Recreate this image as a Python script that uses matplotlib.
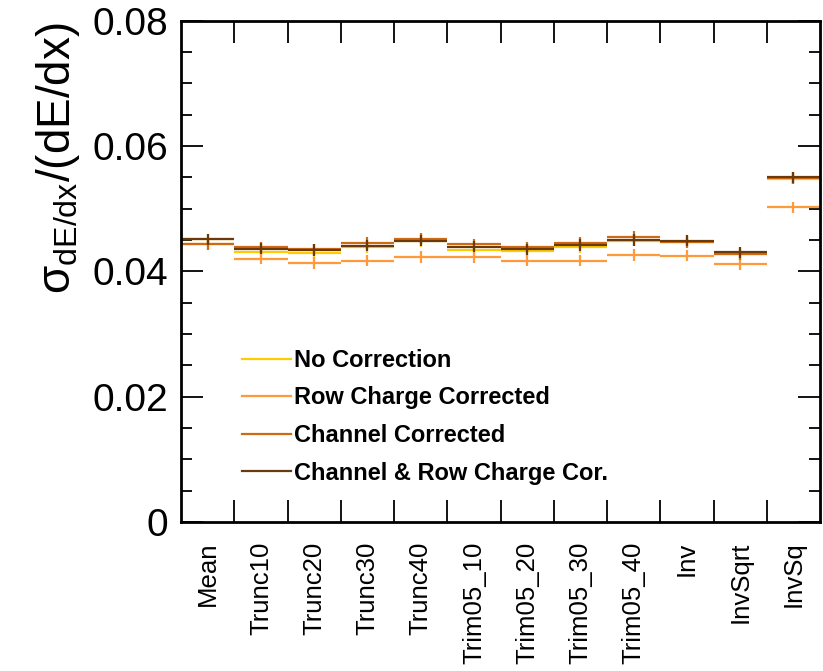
import matplotlib.pyplot as plt
from matplotlib.ticker import MultipleLocator, FixedLocator

plt.rcParams['font.family'] = ['Liberation Sans', 'DejaVu Sans']
plt.rcParams['mathtext.fontset'] = 'custom'

methods = ['Mean', 'Trunc10', 'Trunc20', 'Trunc30', 'Trunc40', 'Trim05_10',
           'Trim05_20', 'Trim05_30', 'Trim05_40', 'Inv', 'InvSqrt', 'InvSq']

no_corr = [0.0451, 0.0430, 0.0429, 0.0438, 0.0448, 0.0434,
           0.0433, 0.0438, 0.0449, 0.0447, 0.0428, 0.0548]
row_corr = [0.0443, 0.0420, 0.0413, 0.0417, 0.0423, 0.0422,
            0.0417, 0.0417, 0.0426, 0.0425, 0.0411, 0.0502]
chan_corr = [0.0443, 0.0438, 0.0435, 0.0445, 0.0452, 0.0443,
             0.0438, 0.0445, 0.0455, 0.0446, 0.0427, 0.0549]
chan_row_corr = [0.0451, 0.0436, 0.0434, 0.0441, 0.0449, 0.0439,
                 0.0435, 0.0442, 0.0450, 0.0449, 0.0430, 0.0550]
err = 0.0009

series = [
    ('No Correction', no_corr, '#ffcc00'),
    ('Row Charge Corrected', row_corr, '#ff9a3a'),
    ('Channel Corrected', chan_corr, '#cf6a12'),
    ('Channel & Row Charge Cor.', chan_row_corr, '#6a3a0c'),
]

fig = plt.figure(figsize=(8.23, 6.71), dpi=100)
ax = fig.add_axes([0.22, 0.222, 0.7764, 0.7474])

x = list(range(len(methods)))
handles = []
for name, vals, col in series:
    ax.errorbar(x, vals, xerr=0.5, yerr=err, fmt='none', ecolor=col,
                elinewidth=1.6, capsize=0)
    h, = ax.plot([], [], color=col, lw=1.6, label=name)
    handles.append(h)

ax.set_xlim(-0.5, len(methods) - 0.5)
ax.set_ylim(0, 0.08)

ax.yaxis.set_major_locator(MultipleLocator(0.02))
ax.yaxis.set_minor_locator(MultipleLocator(0.005))
ax.yaxis.set_major_formatter(plt.FuncFormatter(lambda v, p: '0' if v == 0 else f'{v:.2f}'))
ax.tick_params(axis='y', which='major', direction='in', length=16, width=1.3,
               labelsize=28, pad=9, right=True)
ax.tick_params(axis='y', which='minor', direction='in', length=8, width=1.3, right=True)

# bin edges carry the ticks, labels sit at bin centres
ax.xaxis.set_major_locator(FixedLocator([i + 0.5 for i in range(len(methods) - 1)]))
ax.xaxis.set_major_formatter(plt.NullFormatter())
ax.xaxis.set_minor_locator(FixedLocator(x))
ax.xaxis.set_minor_formatter(plt.FixedFormatter(methods))
ax.tick_params(axis='x', which='major', direction='in', length=16, width=1.3, top=True)
ax.tick_params(axis='x', which='minor', length=0, labelsize=18.5, pad=14,
               labelrotation=90)
for lab in ax.get_xticklabels(minor=True):
    lab.set_va('top')

for s in ax.spines.values():
    s.set_linewidth(2)

ax.set_ylabel('$\\mathregular{σ_{dE/dx}/(dE/dx)}$', fontsize=33)
ax.yaxis.set_label_coords(-0.155, 0.725)

leg = ax.legend(handles=handles, loc='upper left', frameon=False,
                bbox_to_anchor=(230 / 823, 1 - 337 / 671),
                bbox_transform=fig.transFigure,
                prop={'weight': 'bold', 'size': 17}, borderpad=0,
                handlelength=2.1, handletextpad=0.1, labelspacing=0.62)

fig.savefig('out.png', dpi=100)
